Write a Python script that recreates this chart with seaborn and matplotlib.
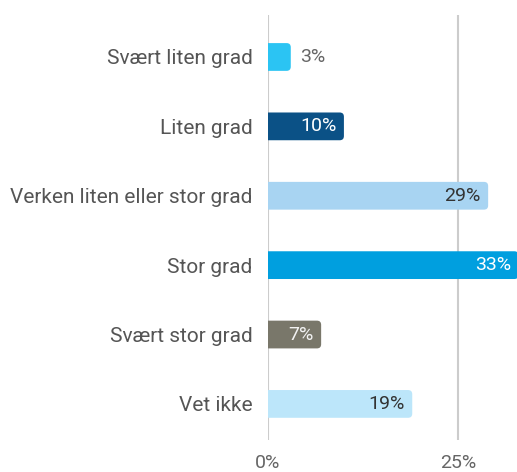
import matplotlib
matplotlib.use("Agg")
import matplotlib.pyplot as plt
import seaborn as sns
import pandas as pd
from matplotlib.patches import FancyBboxPatch

categories = ["Svært liten grad", "Liten grad", "Verken liten eller stor grad",
              "Stor grad", "Svært stor grad", "Vet ikke"]
values = [3, 10, 29, 33, 7, 19]
labels = ["3%", "10%", "29%", "33%", "7%", "19%"]
colors = ["#2BC4F3", "#0B5186", "#A8D4F2", "#009FDF", "#79776A", "#BCE6FA"]
label_colors = ["#666666", "#FFFFFF", "#333333", "#FFFFFF", "#F2F2F2", "#333333"]
xticks = [0, 25]
xticklabels = ["0%", "25%"]

sns.set_style("white")
plt.rcParams["font.family"] = ["Roboto", "DejaVu Sans"]

df = pd.DataFrame({"cat": categories, "val": values})
fig = plt.figure(figsize=(5.17, 4.72), dpi=100)
ax = fig.add_axes([268/517, 32/472, 1 - 268/517, 425/472])

sns.barplot(data=df, y="cat", x="val", hue="cat", palette=colors,
            width=0.4, legend=False, ax=ax, orient="h", saturation=1)

ax.set_xlim(0, 32.8)
ax.set_ylim(5.52, -0.605)

# replace rectangles with rounded bars
for p in list(ax.patches):
    x0, y0 = p.get_x(), p.get_y()
    w, h = p.get_width(), p.get_height()
    fc = p.get_facecolor()
    p.remove()
    fb = FancyBboxPatch((x0 - 1.5, y0), w + 1.5, h,
                        boxstyle="round,pad=0,rounding_size=0.55",
                        mutation_aspect=0.11, fc=fc, ec="none", zorder=3)
    fb.set_clip_on(True)
    ax.add_patch(fb)

for i, (v, lab, lc) in enumerate(zip(values, labels, label_colors)):
    if v < 5:
        ax.text(v + 1.2, i, lab, va="center", ha="left", color=lc, fontsize=14, zorder=4)
    else:
        ax.text(v - 1.0, i, lab, va="center", ha="right", color=lc, fontsize=14, zorder=4)

for xt in xticks:
    ax.axvline(xt, color="#CCCCCC", lw=1.5, zorder=1)

for s in ax.spines.values():
    s.set_visible(False)

ax.set_xticks(xticks)
ax.set_xticklabels(xticklabels, color="#666666", fontsize=14)
ax.tick_params(axis="x", length=0, pad=10)
ax.tick_params(axis="y", length=0, pad=11, labelsize=15, labelcolor="#555555")
ax.set_xlabel("")
ax.set_ylabel("")

fig.savefig("out.png", dpi=100)
